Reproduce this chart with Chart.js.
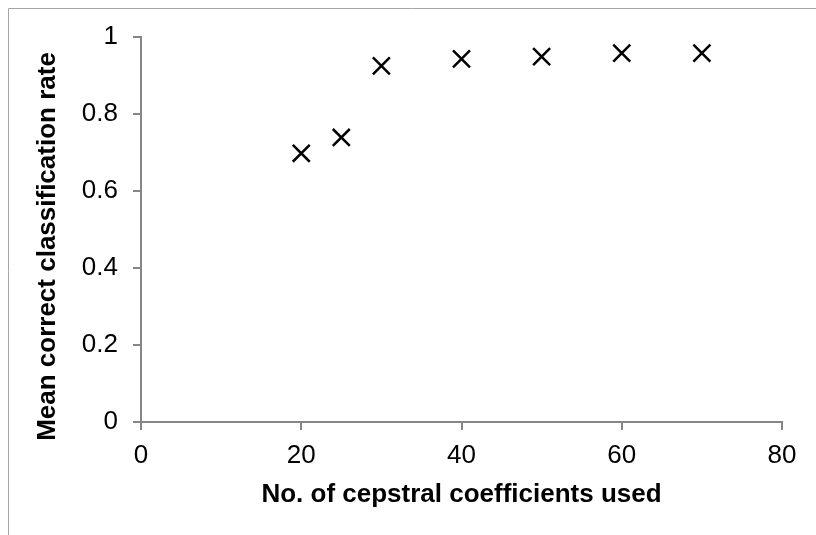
<!DOCTYPE html>
<html>
<head>
<meta charset="utf-8">
<script src="https://cdn.jsdelivr.net/npm/chart.js@4/dist/chart.umd.min.js"></script>
<style>
  html, body { margin: 0; padding: 0; background: #fff; }
  #wrap { width: 816px; height: 535px; }
</style>
</head>
<body>
<div id="wrap"><canvas id="scatterChart" width="816" height="535"></canvas></div>
<script>
const coefficients = [20, 25, 30, 40, 50, 60, 70];
const classificationRate = [0.698, 0.739, 0.925, 0.943, 0.949, 0.958, 0.958];
const xTicks = [0, 20, 40, 60, 80];
const yTicks = [0, 0.2, 0.4, 0.6, 0.8, 1];
const xTitle = 'No. of cepstral coefficients used';
const yTitle = 'Mean correct classification rate';

const axisGray = '#868686';
const fontFamily = 'Liberation Sans, Arial, sans-serif';

// outer frame (only left and top edges show in the original crop)
// and the y title, which sits a bit below the plot's middle
const frame = {
  id: 'frame',
  beforeDraw(chart) {
    const c = chart.ctx;
    c.save();
    c.fillStyle = '#fff';
    c.fillRect(0, 0, chart.width, chart.height);
    c.strokeStyle = '#a6a6a6';
    c.lineWidth = 1;
    c.beginPath();
    c.moveTo(8.5, chart.height);
    c.lineTo(8.5, 8.5);
    c.lineTo(chart.width, 8.5);
    c.stroke();
    c.restore();
  },
  afterDraw(chart) {
    const c = chart.ctx;
    const area = chart.chartArea;
    c.save();
    c.translate(48, (area.top + area.bottom) / 2 + 17);
    c.rotate(-Math.PI / 2);
    c.fillStyle = '#000';
    c.font = 'bold 26px ' + fontFamily;
    c.textAlign = 'center';
    c.textBaseline = 'middle';
    c.fillText(yTitle, 0, 0);
    c.restore();
  }
};

const ctx = document.getElementById('scatterChart').getContext('2d');
new Chart(ctx, {
  type: 'scatter',
  data: {
    datasets: [{
      data: coefficients.map((x, i) => ({ x: x, y: classificationRate[i] })),
      pointStyle: 'crossRot',
      pointRadius: 12,
      pointHoverRadius: 12,
      pointBorderWidth: 2.5,
      borderColor: '#000',
      backgroundColor: '#000'
    }]
  },
  options: {
    responsive: false,
    animation: false,
    layout: { padding: { left: 10, top: 37, right: 34, bottom: 0 } },
    scales: {
      x: {
        type: 'linear',
        min: xTicks[0],
        max: xTicks[xTicks.length - 1],
        afterBuildTicks: (s) => { s.ticks = xTicks.map(v => ({ value: v })); },
        afterFit: (s) => { s.height = 113; },
        grid: { drawOnChartArea: false, drawTicks: true, tickLength: 8, color: axisGray, lineWidth: 2 },
        border: { display: true, color: axisGray, width: 2 },
        ticks: { color: '#000', padding: 10, font: { family: fontFamily, size: 26 }, maxRotation: 0 },
        title: {
          display: true,
          text: xTitle,
          color: '#000',
          font: { family: fontFamily, size: 26, weight: 'bold' },
          padding: { top: 4, bottom: 25 }
        }
      },
      y: {
        min: yTicks[0],
        max: yTicks[yTicks.length - 1],
        afterBuildTicks: (s) => { s.ticks = yTicks.map(v => ({ value: v })); },
        afterFit: (s) => { s.width = 131; },
        grid: { drawOnChartArea: false, drawTicks: true, tickLength: 8, color: axisGray, lineWidth: 2 },
        border: { display: true, color: axisGray, width: 2 },
        ticks: {
          color: '#000',
          padding: 15,
          font: { family: fontFamily, size: 26 },
          callback: (v) => String(v)
        },
        title: { display: false }
      }
    },
    plugins: {
      legend: { display: false },
      tooltip: { enabled: false }
    }
  },
  plugins: [frame]
});
</script>
</body>
</html>
